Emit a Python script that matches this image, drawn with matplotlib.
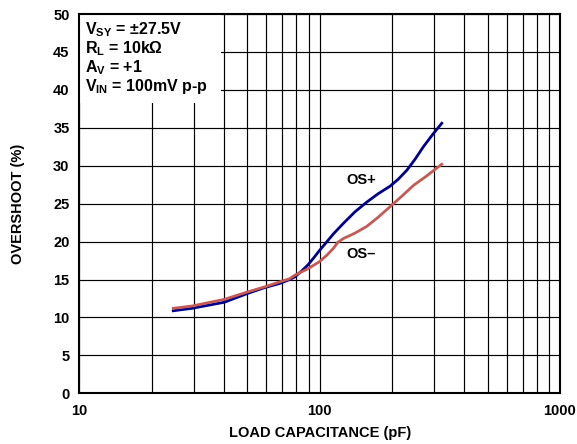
import matplotlib
matplotlib.use("Agg")
import matplotlib.pyplot as plt
from matplotlib.patches import Rectangle
from matplotlib.ticker import FixedLocator, NullFormatter, FixedFormatter

plt.rcParams['font.family'] = ['Liberation Sans', 'DejaVu Sans']
plt.rcParams['font.weight'] = 'bold'
plt.rcParams['mathtext.fontset'] = 'custom'
plt.rcParams['mathtext.bf'] = 'Liberation Sans:bold'
plt.rcParams['mathtext.rm'] = 'Liberation Sans:bold'
plt.rcParams['mathtext.it'] = 'Liberation Sans:bold'

# Data
cap_pos = [24.6, 29.4, 40.1, 50.5, 59.3, 68.4, 75.0, 79.0, 84.0, 89.2, 94.2, 99.7, 107.1, 114.0,
           125.5, 140.0, 157.0, 175.0, 196.3, 212.0, 230.5, 250.0, 270.1, 295.0, 322.2]
os_pos = [10.88, 11.2, 12.0, 13.2, 13.95, 14.49, 15.0, 15.36, 16.1, 16.9, 17.8, 18.8, 19.97, 21.0,
          22.4, 23.9, 25.2, 26.3, 27.3, 28.2, 29.4, 30.9, 32.5, 34.1, 35.6]
cap_neg = [24.6, 29.4, 40.1, 50.5, 59.3, 68.4, 75.0, 79.0, 89.2, 99.7, 107.1, 114.0, 119.0, 125.5,
           140.0, 157.0, 175.0, 196.3, 220.0, 245.5, 280.0, 322.2]
os_neg = [11.2, 11.5, 12.38, 13.39, 14.05, 14.7, 15.1, 15.59, 16.4, 17.34, 18.2, 19.1, 19.9, 20.4,
          21.1, 22.0, 23.2, 24.6, 26.0, 27.4, 28.7, 30.2]

x_ticks = [10, 100, 1000]
x_ticklabels = ["10", "100", "1000"]
y_ticks = [0, 5, 10, 15, 20, 25, 30, 35, 40, 45, 50]

fig = plt.figure(figsize=(5.77, 4.44), dpi=100)
ax = fig.add_axes([79.3/577, 1-393.3/444, (560-79.3)/577, (393.3-14)/444])

ax.set_xscale('log')
ax.set_xlim(10, 1000)
ax.set_ylim(0, 50)

ax.xaxis.set_major_locator(FixedLocator(x_ticks))
ax.xaxis.set_major_formatter(FixedFormatter(x_ticklabels))
minors = [m * d for d in (10, 100) for m in range(2, 10)]
ax.xaxis.set_minor_locator(FixedLocator(minors))
ax.xaxis.set_minor_formatter(NullFormatter())
ax.yaxis.set_major_locator(FixedLocator(y_ticks))

ax.grid(True, which='both', axis='x', color='black', linewidth=0.85, zorder=1)
ax.grid(True, which='major', axis='y', color='black', linewidth=0.85, zorder=1)
ax.set_axisbelow(True)

ax.tick_params(which='both', length=0)
ax.tick_params(axis='y', pad=7)
ax.tick_params(axis='x', pad=8)
for lab in ax.get_xticklabels() + ax.get_yticklabels():
    lab.set_fontweight('bold')
    lab.set_fontsize(10.5)
for s in ax.spines.values():
    s.set_linewidth(1.5)

# white box behind the conditions text
ax.add_patch(Rectangle((0, 1 - (103-14)/(393.3-14)), (221-79.3)/(560-79.3), (103-14)/(393.3-14),
                       transform=ax.transAxes, facecolor='white', edgecolor='none', zorder=1.5))

ax.plot(cap_pos, os_pos, color='#00008B', linewidth=2.0, zorder=3)
ax.plot(cap_neg, os_neg, color='#C55A55', linewidth=2.0, zorder=3)

fig.text(361/577, 1-180/444, "OS+", ha='center', va='center', fontsize=10.5, fontweight='bold', zorder=4)
fig.text(361/577, 1-254/444, "OS\u2013", ha='center', va='center', fontsize=10.5, fontweight='bold', zorder=4)

lines = [r"V$_{\mathbf{SY}}$ = ±27.5V", r"R$_{\mathbf{L}}$ = 10kΩ", r"A$_{\mathbf{V}}$ = +1",
         r"V$_{\mathbf{IN}}$ = 100mV p-p"]
for i, t in enumerate(lines):
    fig.text(85/577, 1-(29.5+19*i)/444, t, ha='left', va='center', fontsize=11.5, fontweight='bold', zorder=5)

ax.set_xlabel("LOAD CAPACITANCE (pF)", fontsize=10.5, fontweight='bold')
ax.set_ylabel("OVERSHOOT (%)", fontsize=10.5, fontweight='bold')
ax.xaxis.set_label_coords(0.5, -(433-393.3)/379.3)
ax.yaxis.set_label_coords(-(79.3-18)/480.7, 0.5)
ax.xaxis.label.set_va('center')
ax.yaxis.label.set_va('center')

fig.savefig("out.png", dpi=100)
